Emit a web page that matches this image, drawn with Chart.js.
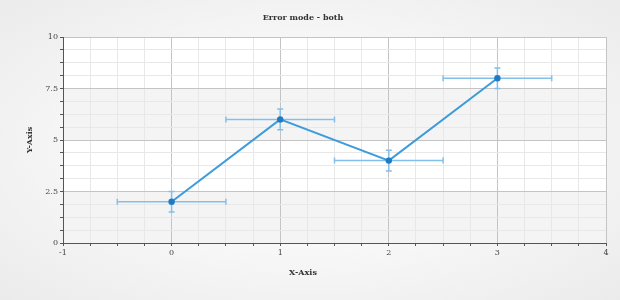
<!DOCTYPE html>
<html>
<head>
<meta charset="utf-8">
<script src="https://cdn.jsdelivr.net/npm/chart.js@4.4.1/dist/chart.umd.min.js"></script>
<style>
  html, body { margin: 0; padding: 0; }
  body { width: 620px; height: 300px; overflow: hidden;
    background: radial-gradient(ellipse at 50% 50%, #ffffff 0%, #f8f8f8 45%, #ebebeb 100%); }
  #wrap { width: 620px; height: 300px; }
</style>
</head>
<body>
<div id="wrap"><canvas id="c" width="620" height="300"></canvas></div>
<script>
// ---- data ----
const xValues = [0, 1, 2, 3];
const yValues = [2, 6, 4, 8];
const xErrors = [0.5, 0.5, 0.5, 0.5];
const yErrors = [0.5, 0.5, 0.5, 0.5];
const chartTitle = 'Error mode - both';
const xAxisTitle = 'X-Axis';
const yAxisTitle = 'Y-Axis';
const xRange = [-1, 4];
const yRange = [0, 10];
const yMajorStep = 2.5;
const yMinorStep = 0.625;
const xMajorStep = 1;
const xMinorStep = 0.25;

const FONT = '"DejaVu Serif", serif';
const isMajor = (v, step) => Math.abs(v / step - Math.round(v / step)) < 1e-6;

const points = xValues.map((x, i) => ({ x: x, y: yValues[i] }));

const bandsPlugin = {
  id: 'bands',
  beforeDraw(chart) {
    const { ctx, chartArea: a, scales } = chart;
    const ys = scales.y;
    ctx.save();
    let idx = 0;
    for (let v = yRange[0]; v < yRange[1] - 1e-9; v += yMajorStep, idx++) {
      const top = ys.getPixelForValue(v + yMajorStep);
      const bot = ys.getPixelForValue(v);
      ctx.fillStyle = (idx % 2 === 0) ? '#f4f4f4' : '#ffffff';
      ctx.fillRect(a.left, top, a.right - a.left, bot - top);
    }
    ctx.restore();
  }
};

const errorPlugin = {
  id: 'errorBars',
  beforeDatasetsDraw(chart) {
    const { ctx, scales } = chart;
    const xs = scales.x, ys = scales.y;
    const cap = 3;
    ctx.save();
    ctx.strokeStyle = '#84bfe9';
    ctx.lineWidth = 1.5;
    xValues.forEach((x, i) => {
      const y = yValues[i];
      const px = xs.getPixelForValue(x);
      const py = ys.getPixelForValue(y);
      const x1 = xs.getPixelForValue(x - xErrors[i]);
      const x2 = xs.getPixelForValue(x + xErrors[i]);
      const y1 = ys.getPixelForValue(y - yErrors[i]);
      const y2 = ys.getPixelForValue(y + yErrors[i]);
      ctx.beginPath();
      ctx.moveTo(x1, py); ctx.lineTo(x2, py);
      ctx.moveTo(x1, py - cap); ctx.lineTo(x1, py + cap);
      ctx.moveTo(x2, py - cap); ctx.lineTo(x2, py + cap);
      ctx.moveTo(px, y1); ctx.lineTo(px, y2);
      ctx.moveTo(px - cap, y1); ctx.lineTo(px + cap, y1);
      ctx.moveTo(px - cap, y2); ctx.lineTo(px + cap, y2);
      ctx.stroke();
    });
    ctx.restore();
  }
};

new Chart(document.getElementById('c'), {
  type: 'scatter',
  data: {
    datasets: [{
      data: points,
      showLine: true,
      borderColor: '#3d9bdb',
      borderWidth: 2,
      pointBackgroundColor: '#1f7bc3',
      pointBorderColor: '#1f7bc3',
      pointBorderWidth: 0,
      pointRadius: 3.2,
      tension: 0
    }]
  },
  options: {
    responsive: false,
    devicePixelRatio: 1,
    animation: false,
    layout: { padding: { left: 0, right: 14, top: 0, bottom: 0 } },
    plugins: {
      legend: { display: false },
      tooltip: { enabled: false },
      title: {
        display: true, text: chartTitle, color: '#333',
        font: { family: FONT, size: 8, weight: 'bold', lineHeight: 1.2 },
        padding: { top: 13.5, bottom: 13.9 }
      },
      subtitle: {
        display: true, text: xAxisTitle, position: 'bottom', color: '#333',
        font: { family: FONT, size: 8, weight: 'bold', lineHeight: 1.2 },
        padding: { top: 4, bottom: 22.5 }
      }
    },
    scales: {
      x: {
        type: 'linear', min: xRange[0], max: xRange[1],
        afterFit(s) { s.height = 20.9; },
        ticks: {
          stepSize: xMinorStep, autoSkip: false, maxRotation: 0,
          color: '#444', padding: 2,
          font: { family: FONT, size: 8 },
          callback: v => isMajor(v, xMajorStep) ? String(Math.round(v)) : ''
        },
        grid: {
          color: c => isMajor(c.tick.value, xMajorStep) ? '#c4c4c4' : '#e8e8e8',
          tickColor: '#555', tickLength: 3, lineWidth: 1
        },
        border: { color: '#555', width: 1 }
      },
      y: {
        type: 'linear', min: yRange[0], max: yRange[1],
        afterFit(s) { s.width = 63; },
        title: {
          display: true, text: yAxisTitle, color: '#333',
          font: { family: FONT, size: 8, weight: 'bold', lineHeight: 1.2 },
          padding: { top: 25, bottom: 0 }
        },
        ticks: {
          stepSize: yMinorStep, autoSkip: false,
          color: '#444', padding: 2,
          font: { family: FONT, size: 8 },
          callback: v => isMajor(v, yMajorStep) ? String(v) : ''
        },
        grid: {
          color: c => isMajor(c.tick.value, yMajorStep) ? '#c4c4c4' : '#e8e8e8',
          tickColor: '#555', tickLength: 3, lineWidth: 1
        },
        border: { color: '#555', width: 1 }
      }
    }
  },
  plugins: [bandsPlugin, errorPlugin]
});
</script>
</body>
</html>
